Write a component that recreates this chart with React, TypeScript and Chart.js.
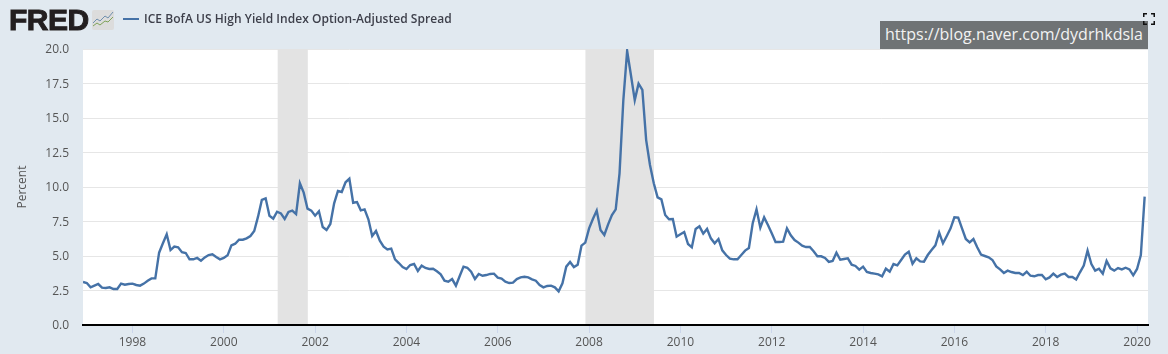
import React, { useEffect, useRef } from "react";
import { Chart, registerables } from "chart.js";

Chart.register(...registerables);

const seriesName = "ICE BofA US High Yield Index Option-Adjusted Spread";
const yAxisTitle = "Percent";
const watermark = "https://blog.naver.com/dydrhkdsla";
const startYear = 1996 + 11 / 12;
const endYear = 2020.24;
const xTickYears = [1998, 2000, 2002, 2004, 2006, 2008, 2010, 2012, 2014, 2016, 2018, 2020];
const yTickValues = [0, 2.5, 5, 7.5, 10, 12.5, 15, 17.5, 20];
const recessions = [
  [2001.18, 2001.84],
  [2007.92, 2009.42],
];

// Monthly readings, Dec 1996 onward
const spread1997to2000 = [
  3.12, 3.04, 2.73, 2.85, 2.97, 2.71, 2.68, 2.73, 2.61, 2.61, 3.0, 2.92, 2.97, 3.0, 2.9, 2.85, 3.0, 3.21, 3.38, 3.38,
  5.24, 5.92, 6.57, 5.43, 5.68, 5.63, 5.27, 5.22, 4.76, 4.76, 4.86, 4.66, 4.9, 5.07, 5.12, 4.93, 4.76, 4.86, 5.05,
  5.77, 5.89, 6.18, 6.18, 6.28, 6.45, 6.81, 7.85, 9.06, 9.18,
];
const spread2001to2004 = [
  7.92, 7.71, 8.21, 8.09, 7.68, 8.19, 8.29, 8.04, 10.27, 9.59, 8.43, 8.29, 7.92, 8.24, 7.1, 6.88, 7.32, 8.82, 9.71,
  9.64, 10.34, 10.6, 8.86, 8.91, 8.31, 8.38, 7.66, 6.45, 6.81, 6.11, 5.68, 5.48, 5.53, 4.76, 4.49, 4.2, 4.06, 4.35,
  4.42, 3.91, 4.3, 4.13, 4.06,
];
const spread2004to2008 = [
  4.08, 3.89, 3.67, 3.21, 3.14, 3.33, 2.85, 3.55, 4.23, 4.15, 3.86, 3.33, 3.7, 3.57, 3.62, 3.7, 3.72, 3.43, 3.36, 3.14,
  3.04, 3.07, 3.33, 3.45, 3.5, 3.45, 3.31, 3.21, 2.9, 2.73, 2.83, 2.85, 2.73, 2.44, 3.02, 4.23, 4.57, 4.2, 4.37, 5.75,
  5.97, 7.0, 7.68, 8.29, 6.88, 6.52, 7.29, 7.97, 8.38,
];
const spreadCrisis = [10.99, 16.3, 19.86, 18.1, 16.3, 17.49, 17.03, 13.4, 11.6, 10.27, 9.25, 9.1, 7.97, 7.66, 7.68];
const spread2010to2012 = [
  6.4, 6.57, 6.74, 5.87, 5.63, 6.96, 7.15, 6.62, 6.96, 6.28, 5.92, 6.23, 5.41, 5.07, 4.81, 4.76, 4.76, 5.07, 5.39, 5.58,
  7.37, 8.38, 7.05, 7.8, 7.25, 6.64, 6.01, 6.01,
];
const spread2012to2016 = [
  6.04, 7.0, 6.5, 6.16, 5.97, 5.75, 5.65, 5.65, 5.34, 4.98, 4.98, 4.86, 4.57, 4.64, 5.24, 4.73, 4.78, 4.83, 4.37, 4.28,
  4.01, 4.23, 3.84, 3.77, 3.72, 3.67, 3.53, 4.08, 3.86, 4.42, 4.32, 4.71, 5.1, 5.31, 4.44, 4.83, 4.61, 4.59, 5.07, 5.43,
  5.77, 6.69, 5.92, 6.45, 7.0, 7.8, 7.78,
];
const spread2016to2020 = [
  7.0, 6.23, 5.99, 6.23, 5.63, 5.1, 5.0, 4.9, 4.71, 4.25, 4.03, 3.77, 3.94, 3.84, 3.77, 3.77, 3.62, 3.86, 3.57, 3.53,
  3.62, 3.62, 3.31, 3.45, 3.72, 3.48, 3.65, 3.72, 3.48, 3.48, 3.29, 3.82, 4.3, 5.39, 4.42, 3.94, 4.08, 3.72, 4.64, 4.11,
  3.94, 4.13, 4.03, 4.15, 4.03, 3.6, 4.06, 5.07, 9.3,
];
const spreadValues = [
  ...spread1997to2000,
  ...spread2001to2004,
  ...spread2004to2008,
  ...spreadCrisis,
  ...spread2010to2012,
  ...spread2012to2016,
  ...spread2016to2020,
];

const uiFont = '"Open Sans", "Noto Sans", sans-serif';
const pageBg = "#e1e9f0";
const lineColor = "#4572a7";

const plotBackdrop = {
  id: "plotBackdrop",
  beforeDraw(chart: any) {
    const { ctx, chartArea: a } = chart;
    ctx.save();
    ctx.fillStyle = "#ffffff";
    ctx.fillRect(a.left, a.top, a.right - a.left, a.bottom - a.top);
    ctx.restore();
  },
  beforeDatasetsDraw(chart: any) {
    const { ctx, chartArea: a, scales } = chart;
    ctx.save();
    ctx.fillStyle = "#e3e3e3";
    for (const [from, to] of recessions) {
      const x0 = scales.x.getPixelForValue(from);
      const x1 = scales.x.getPixelForValue(to);
      ctx.fillRect(x0, a.top, x1 - x0, a.bottom - a.top);
    }
    ctx.restore();
  },
};

export default function App() {
  const ref = useRef<HTMLCanvasElement | null>(null);

  useEffect(() => {
    const chart = new Chart(ref.current as HTMLCanvasElement, {
      type: "line",
      data: {
        datasets: [
          {
            label: seriesName,
            data: spreadValues.map((y, i) => ({ x: startYear + i / 12, y })),
            borderColor: lineColor,
            borderWidth: 2.4,
            pointRadius: 0,
            tension: 0,
            fill: false,
          },
        ],
      },
      plugins: [plotBackdrop],
      options: {
        animation: false,
        responsive: false,
        events: [],
        layout: { padding: { top: 49, right: 20, left: 0, bottom: 0 } },
        plugins: { legend: { display: false }, tooltip: { enabled: false }, title: { display: false } },
        scales: {
          x: {
            type: "linear",
            min: startYear,
            max: endYear,
            afterBuildTicks(axis: any) {
              axis.ticks = xTickYears.map((value) => ({ value }));
            },
            afterFit(axis: any) {
              axis.height = 29;
            },
            grid: { drawOnChartArea: false, color: "#ccd6eb", tickLength: 8 },
            border: { color: "#000000", width: 2, z: 1 },
            ticks: {
              autoSkip: false,
              maxRotation: 0,
              padding: 2,
              color: "#555555",
              font: { family: uiFont, size: 12 },
              callback: (v: any) => String(v),
            },
          },
          y: {
            min: 0,
            max: 20,
            afterBuildTicks(axis: any) {
              axis.ticks = yTickValues.map((value) => ({ value }));
            },
            afterFit(axis: any) {
              axis.width = 83;
            },
            grid: { color: "#e6e6e6", lineWidth: 1, drawTicks: false },
            border: { display: false },
            title: {
              display: true,
              text: yAxisTitle,
              color: "#555555",
              font: { family: uiFont, size: 12 },
              padding: { top: 15, bottom: 0 },
            },
            ticks: {
              padding: 14,
              labelOffset: 1,
              color: "#555555",
              font: { family: uiFont, size: 12 },
              callback: (v: any) => Number(v).toFixed(1),
            },
          },
        },
      },
    } as any);
    return () => chart.destroy();
  }, []);

  return (
    <div style={{ position: "relative", width: 1168, height: 354, background: pageBg, overflow: "hidden" }}>
      <style>{`body{margin:0}`}</style>
      <canvas ref={ref} width={1168} height={354} style={{ position: "absolute", left: 0, top: 0, display: "block" }} />
      <div
        style={{
          position: "absolute",
          left: 9,
          top: 3,
          fontFamily: '"Liberation Sans", Arial, sans-serif',
          fontWeight: 700,
          fontSize: 30,
          lineHeight: "34px",
          letterSpacing: -0.5,
          color: "#231f20",
          WebkitTextStroke: "1px #231f20",
        }}
      >
        FRED
      </div>
      <svg style={{ position: "absolute", left: 92, top: 10 }} width={22} height={20} viewBox="0 0 22 20">
        <rect width="22" height="20" rx="2" fill="#dcdcdc" />
        <polyline points="1,13 5,9 8,11 13,6 16,8 21,2" fill="none" stroke="#6f8fae" strokeWidth="1" />
        <polyline points="1,16 5,13 8,15 13,11 16,12 21,7" fill="none" stroke="#7fa35a" strokeWidth="1" />
      </svg>
      <div style={{ position: "absolute", left: 123, top: 18, width: 16, height: 2, background: lineColor }} />
      <div
        style={{
          position: "absolute",
          left: 144,
          top: 10,
          fontFamily: uiFont,
          fontWeight: 600,
          fontSize: 12,
          letterSpacing: 0.04,
          lineHeight: "18px",
          color: "#3d3f4a",
          whiteSpace: "nowrap",
        }}
      >
        {seriesName}
      </div>
      <div
        style={{
          position: "absolute",
          left: 880,
          top: 21,
          width: 268,
          height: 28,
          background: "#6f7375",
          color: "#f2f2f2",
          fontFamily: uiFont,
          fontSize: 16,
          lineHeight: "27px",
          textAlign: "center",
          whiteSpace: "nowrap",
        }}
      >
        {watermark}
      </div>
      <svg style={{ position: "absolute", left: 1143, top: 13 }} width={12} height={12} viewBox="0 0 12 12">
        <path d="M0.75 4V0.75H4M8 0.75H11.25V4M11.25 8V11.25H8M4 11.25H0.75V8" fill="none" stroke="#111" strokeWidth="1.5" />
      </svg>
    </div>
  );
}
